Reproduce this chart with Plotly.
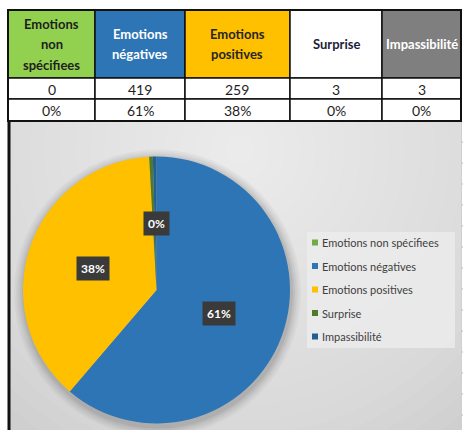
import math
import plotly.graph_objects as go

# ---- data -------------------------------------------------------------
categories = ["Emotions non spécifiees", "Emotions négatives", "Emotions positives",
              "Surprise", "Impassibilité"]
header_lines = [["Emotions", "non", "spécifiees"], ["Emotions", "négatives"],
                ["Emotions", "positives"], ["Surprise"], ["Impassibilité"]]
counts = [0, 419, 259, 3, 3]
slice_colors = ["#70AD47", "#2E75B6", "#FFC000", "#4E7A2E", "#255E91"]
header_fill = ["#92D050", "#2E75B6", "#FFC000", "#FFFFFF", "#7F7F7F"]
header_font = ["#1E1E1E", "#FFFFFF", "#262626", "#1E1E3A", "#FFFFFF"]
labelled = [0, 1, 2]          # slices that carry a percentage label

W, H = 463, 430
FONT = "Lato"


def X(p):
    return p / W


def Y(p):
    return 1 - p / H


total = sum(counts)
pcts = [round(100 * c / total) for c in counts]

shapes = []
annotations = []

# ---- chart area background (radial light-grey gradient) -----------------
shapes.append(dict(type="rect", xref="paper", yref="paper", layer="below",
                   x0=X(9), x1=X(461), y0=Y(430), y1=Y(121),
                   fillcolor="#CDCDCD", line=dict(width=0)))
gx, gy = 240, 150
for r in range(360, 0, -15):
    shapes.append(dict(type="circle", xref="paper", yref="paper", layer="below",
                       x0=X(gx - r), x1=X(gx + r), y0=Y(gy + r), y1=Y(gy - r),
                       fillcolor="white", opacity=0.05, line=dict(width=0)))

# soft shadow under the pie
cx, cy, R = 156.5, 290, 133.5
for extra, a in [(10, 0.03), (8, 0.03), (6, 0.04), (4, 0.05), (2, 0.06)]:
    shapes.append(dict(type="circle", xref="paper", yref="paper", layer="below",
                       x0=X(cx + 1 - R - extra), x1=X(cx + 1 + R + extra),
                       y0=Y(cy + 3 + R + extra), y1=Y(cy + 3 - R - extra),
                       fillcolor="black", opacity=a, line=dict(width=0)))

# white margins around the chart area
for x0, x1, y0, y1 in [(0, 9, 0, 430), (461, 463, 0, 430), (0, 463, 0, 121)]:
    shapes.append(dict(type="rect", xref="paper", yref="paper", layer="below",
                       x0=X(x0), x1=X(x1), y0=Y(y1), y1=Y(y0),
                       fillcolor="white", line=dict(width=0)))
# spreadsheet gridline ticks on the right
shapes.append(dict(type="line", xref="paper", yref="paper", layer="below",
                   x0=X(461.5), x1=X(461.5), y0=Y(430), y1=Y(121),
                   line=dict(color="#D0D0D0", width=1)))
for ty in range(142, 430, 21):
    shapes.append(dict(type="line", xref="paper", yref="paper", layer="below",
                       x0=X(461.5), x1=X(463), y0=Y(ty), y1=Y(ty),
                       line=dict(color="#BBBBBB", width=1)))

# left border of the chart area
shapes.append(dict(type="line", xref="paper", yref="paper", layer="below",
                   x0=X(9), x1=X(9), y0=Y(430), y1=Y(120),
                   line=dict(color="#111111", width=3)))

# ---- table ----------------------------------------------------------------
col_edges = [8, 95, 185, 290, 382, 461]
row_edges = [10, 78, 99, 121]
for i in range(len(categories)):
    x0, x1 = col_edges[i], col_edges[i + 1]
    fills = [header_fill[i], "white", "white"]
    for j in range(3):
        shapes.append(dict(type="rect", xref="paper", yref="paper", layer="below",
                           x0=X(x0), x1=X(x1), y0=Y(row_edges[j + 1]), y1=Y(row_edges[j]),
                           fillcolor=fills[j], line=dict(color="#111111", width=1.5)))
    xc = (x0 + x1) / 2
    lines = header_lines[i]
    mid = (row_edges[0] + row_edges[1]) / 2
    for k, t in enumerate(lines):
        yk = mid + (k - (len(lines) - 1) / 2) * 20.5
        annotations.append(dict(xref="paper", yref="paper", x=X(xc), y=Y(yk),
                                text=f"<b>{t}</b>", showarrow=False,
                                xanchor="center", yanchor="middle",
                                font=dict(family=FONT, size=13, color=header_font[i])))
    for j, t in enumerate([str(counts[i]), f"{pcts[i]}%"]):
        yc = (row_edges[j + 1] + row_edges[j + 2]) / 2
        annotations.append(dict(xref="paper", yref="paper", x=X(xc), y=Y(yc + 0.5),
                                text=t, showarrow=False, xanchor="center", yanchor="middle",
                                font=dict(family=FONT, size=14, color="#1E1E1E")))
shapes.append(dict(type="rect", xref="paper", yref="paper", layer="below",
                   x0=X(8), x1=X(461), y0=Y(121), y1=Y(10),
                   line=dict(color="#111111", width=2)))

# ---- legend (drawn by hand) ----------------------------------------------
shapes.append(dict(type="rect", xref="paper", yref="paper", layer="below",
                   x0=X(307), x1=X(455), y0=Y(348), y1=Y(232),
                   fillcolor="#ECECEC", opacity=0.8, line=dict(width=0)))
for k, (name, col) in enumerate(zip(categories, slice_colors)):
    yk = 242.5 + k * 23.5
    shapes.append(dict(type="rect", xref="paper", yref="paper",
                       x0=X(312), x1=X(318), y0=Y(yk + 3), y1=Y(yk - 3),
                       fillcolor=col, line=dict(width=0)))
    annotations.append(dict(xref="paper", yref="paper", x=X(320), y=Y(yk),
                            text=name, showarrow=False, xanchor="left", yanchor="middle",
                            font=dict(family=FONT, size=11, color="#404040")))

# ---- percentage labels on the slices -----------------------------------
cum = 0
for i, c in enumerate(counts):
    mid_ang = math.radians((cum + c / 2) / total * 360)
    cum += c
    if i not in labelled:
        continue
    r = 0.5 * R
    lx = cx + r * math.sin(mid_ang)
    ly = cy - r * math.cos(mid_ang)
    annotations.append(dict(xref="paper", yref="paper", x=X(lx), y=Y(ly),
                            text=f"<b>{pcts[i]}%</b>", showarrow=False,
                            xanchor="center", yanchor="middle",
                            bgcolor="#3A3A3A", borderpad=4,
                            font=dict(family=FONT, size=12, color="white")))

fig = go.Figure(go.Pie(
    labels=categories, values=counts, sort=False, direction="clockwise",
    rotation=0, textinfo="none", hoverinfo="label+value+percent",
    marker=dict(colors=slice_colors, line=dict(width=0)),
    domain=dict(x=[X(cx - R), X(cx + R)], y=[Y(cy + R), Y(cy - R)]),
    showlegend=False,
))
fig.update_layout(width=W, height=H, margin=dict(l=0, r=0, t=0, b=0),
                  paper_bgcolor="white", plot_bgcolor="white",
                  shapes=shapes, annotations=annotations)
fig.write_html("out.html")
